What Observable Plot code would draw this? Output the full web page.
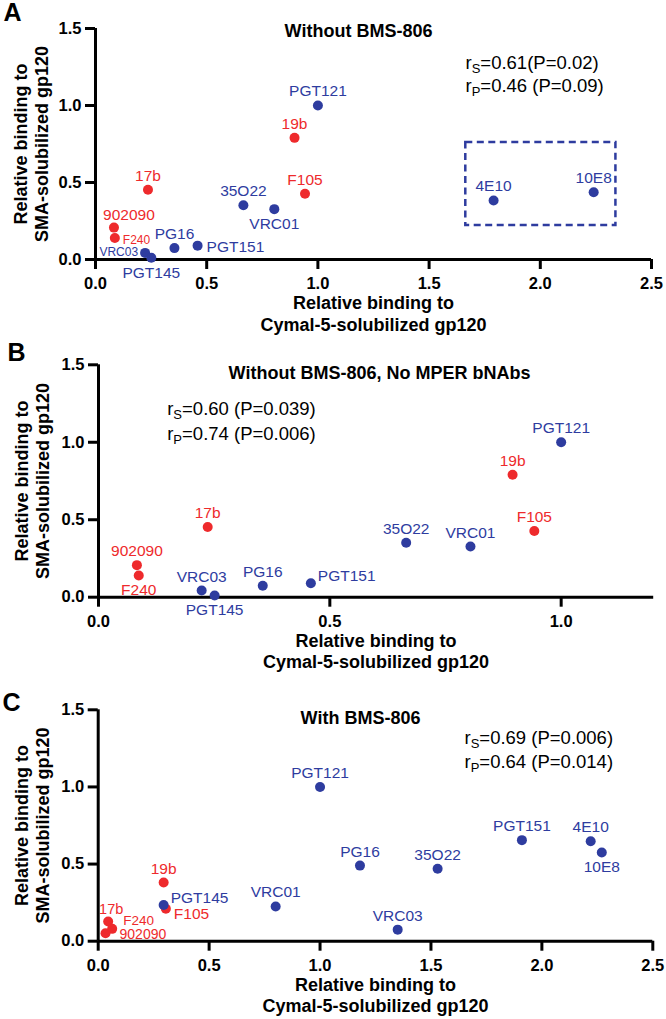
<!DOCTYPE html>
<html>
<head>
<meta charset="utf-8">
<script src="https://cdn.jsdelivr.net/npm/d3@7"></script>
<script src="https://cdn.jsdelivr.net/npm/@observablehq/plot@0.6"></script>
<style>
  html, body { margin: 0; padding: 0; background: #fff; overflow: hidden; }
  #chart svg { display: block; }
</style>
</head>
<body>
<div id="chart"></div>
<script>
// ---------------- DATA ----------------
const antibodies    = ["PGT121","19b","17b","F105","35O22","VRC01","902090","F240","VRC03","PG16","PGT151","PGT145","4E10","10E8"];
const antibodyClass = ["bNAb","nnAb","nnAb","nnAb","bNAb","bNAb","nnAb","nnAb","bNAb","bNAb","bNAb","bNAb","bNAb","bNAb"];
const mperBNAbs = ["4E10","10E8"];

// Without BMS-806 (panels A and B)
const cymalNoBMS = [1.00, 0.895, 0.236, 0.942, 0.665, 0.804, 0.083, 0.087, 0.223, 0.355, 0.459, 0.251, 1.79, 2.24];
const smaNoBMS   = [1.00, 0.79,  0.453, 0.427, 0.352, 0.327, 0.207, 0.14,  0.043, 0.074, 0.09,  0.011, 0.383, 0.437];

// With BMS-806 (panel C)
const cymalBMS = [1.00, 0.295, 0.045, 0.305, 1.53, 0.80,  0.033, 0.063, 1.35,  1.18, 1.91,  0.295, 2.22,  2.27];
const smaBMS   = [1.00, 0.38,  0.128, 0.21,  0.47, 0.225, 0.052, 0.08,  0.075, 0.49, 0.655, 0.235, 0.648, 0.575];

const xTicksWide   = [0, 0.5, 1, 1.5, 2, 2.5];
const xTicksNarrow = [0, 0.5, 1];
const yTicks       = [0, 0.5, 1, 1.5];

// dashed box around MPER bNAbs in panel A
const mperBoxCymal = [1.665, 2.34];
const mperBoxSMA   = [0.22, 0.76];

// label placement codes
const labelPosA = ["above","above","above","above","above","below","aboveRight","rightSmall","leftSmall","above","right","below","above","above"];
const labelPosB = ["above","above","above","above","above","above","above","below","above","above","rightUp","below"];
const labelPosC = ["above","above","aboveTight","rightDown","above","above","rightFarTight","rightUpTight","above","above","above","rightUp","above","below"];

const titleA = "Without BMS-806";
const titleB = "Without BMS-806, No MPER bNAbs";
const titleC = "With BMS-806";
const statsA = ["r_S=0.61(P=0.02)", "r_P=0.46 (P=0.09)"];
const statsB = ["r_S=0.60 (P=0.039)", "r_P=0.74 (P=0.006)"];
const statsC = ["r_S=0.69 (P=0.006)", "r_P=0.64 (P=0.014)"];
const xTitle = "Relative binding to\nCymal-5-solubilized gp120";
const yTitle = "Relative binding to\nSMA-solubilized gp120";

// ---------------- STYLE ----------------
const FONT = "'Liberation Sans', Arial, Helvetica, sans-serif";
const RED = "#EE2A2C", BLUE = "#2E3C9F";
const placements = {
  above:         {dx: 0,  dy: -14, textAnchor: "middle"},
  aboveTight:    {dx: 3,  dy: -12, textAnchor: "middle", fontSize: 14.5},
  below:         {dx: 0,  dy: 15,  textAnchor: "middle"},
  right:         {dx: 9,  dy: 1,   textAnchor: "start"},
  rightFarTight: {dx: 14, dy: 1.5, textAnchor: "start", fontSize: 14},
  rightUp:       {dx: 7,  dy: -7,  textAnchor: "start"},
  rightUpTight:  {dx: 11, dy: -8.5, textAnchor: "start", fontSize: 13.5},
  rightDown:     {dx: 8,  dy: 5,   textAnchor: "start"},
  aboveRight:    {dx: 15, dy: -13, textAnchor: "middle"},
  rightSmall:    {dx: 8,  dy: 2,   textAnchor: "start", fontSize: 12},
  leftSmall:     {dx: -7, dy: -1,  textAnchor: "end",   fontSize: 12}
};

function makeRows(cymal, sma, pos, keep = () => true) {
  return antibodies
    .map((name, i) => ({name, cls: antibodyClass[i], cymal: cymal[i], sma: sma[i]}))
    .filter(keep)
    .map((d, i) => ({...d, pos: pos[i]}));
}

function subscriptify(svg) {
  d3.select(svg).selectAll("text").each(function () {
    const t = this.textContent;
    const k = t.indexOf("_");
    if (k < 0 || this.querySelector("tspan")) return;
    const before = t.slice(0, k), sub = t[k + 1], rest = t.slice(k + 2);
    const sel = d3.select(this);
    sel.text(before);
    sel.append("tspan").attr("dy", 4).attr("font-size", 13).text(sub);
    sel.append("tspan").attr("dy", -4).text(rest);
  });
}

function panel(cfg) {
  const {rows, xDomain, xTicks, height, mT, mR, mB, mL, letter, letterAt, title, titleAt,
         stats, statsAt, yTitleDx, extra = []} = cfg;
  const labelMarks = Object.entries(placements).map(([k, p]) =>
    Plot.text(rows.filter(d => d.pos === k), {
      x: "cymal", y: "sma", text: "name", fill: "cls",
      dx: p.dx, dy: p.dy, textAnchor: p.textAnchor, fontSize: p.fontSize ?? 15.5
    }));
  const svg = Plot.plot({
    width: 666, height,
    marginTop: mT, marginRight: mR, marginBottom: mB, marginLeft: mL,
    style: {fontFamily: FONT, background: "white", overflow: "visible", color: "black"},
    x: {domain: xDomain},
    y: {domain: [0, 1.5]},
    color: {domain: ["nnAb", "bNAb"], range: [RED, BLUE]},
    marks: [
      ...extra,
      Plot.axisX({ticks: xTicks, tickFormat: d3.format(".1f"), tickSize: 10, tickPadding: 8,
                  strokeWidth: 3, fontSize: 16.5, fontWeight: "bold", label: null}),
      Plot.axisY({ticks: yTicks, tickFormat: d3.format(".1f"), tickSize: 10, tickPadding: 4,
                  strokeWidth: 3, fontSize: 16.5, fontWeight: "bold", label: null}),
      Plot.ruleY([0], {strokeWidth: 3}),
      Plot.ruleX([0], {strokeWidth: 3}),
      Plot.dot(rows, {x: "cymal", y: "sma", r: 5, fill: "cls"}),
      ...labelMarks,
      Plot.text([letter], {text: d => d, frameAnchor: "top-left", dx: letterAt[0] - mL, dy: letterAt[1] - mT,
                           textAnchor: "start", lineAnchor: "top", fontSize: 25, fontWeight: "bold"}),
      Plot.text([title], {text: d => d, frameAnchor: "top-left", dx: titleAt[0] - mL, dy: titleAt[1] - mT,
                          textAnchor: "middle", lineAnchor: "middle", fontSize: 18, fontWeight: "bold"}),
      Plot.text([stats[0]], {text: d => d, frameAnchor: "top-left", dx: statsAt[0] - mL, dy: statsAt[1] - mT,
                             textAnchor: "start", lineAnchor: "middle", fontSize: 18.5}),
      Plot.text([stats[1]], {text: d => d, frameAnchor: "top-left", dx: statsAt[0] - mL, dy: statsAt[2] - mT,
                             textAnchor: "start", lineAnchor: "middle", fontSize: 18.5}),
      Plot.text([xTitle], {text: d => d, frameAnchor: "bottom", dy: 53.5, textAnchor: "middle", lineAnchor: "middle",
                           lineHeight: 1.2, fontSize: 18, fontWeight: "bold"}),
      Plot.text([yTitle], {text: d => d, frameAnchor: "left", dx: yTitleDx, rotate: -90,
                           textAnchor: "middle", lineAnchor: "middle",
                           lineHeight: 1.2, fontSize: 18, fontWeight: "bold"})
    ]
  });
  subscriptify(svg);
  return svg;
}

const rowsA = makeRows(cymalNoBMS, smaNoBMS, labelPosA);
const rowsB = makeRows(cymalNoBMS, smaNoBMS, labelPosB, d => !mperBNAbs.includes(d.name));
const rowsC = makeRows(cymalBMS, smaBMS, labelPosC);

const chart = document.getElementById("chart");

// Panel A (page y 0..330)
chart.append(panel({
  rows: rowsA, xDomain: [0, 2.5], xTicks: xTicksWide, height: 330,
  mT: 28, mR: 15, mB: 71, mL: 95,
  letter: "A", letterAt: [3, 3],
  title: titleA, titleAt: [358, 31],
  stats: statsA, statsAt: [465, 63, 86],
  yTitleDx: -65,
  extra: [
    Plot.rect([0], {x1: () => mperBoxCymal[0], x2: () => mperBoxCymal[1],
                    y1: () => mperBoxSMA[0], y2: () => mperBoxSMA[1],
                    fill: "none", stroke: BLUE, strokeWidth: 2.5, strokeDasharray: "7,4.5"})
  ]
}));

// Panel B (page y 330..680)
chart.append(panel({
  rows: rowsB, xDomain: [0, 1.2], xTicks: xTicksNarrow, height: 350,
  mT: 34.3, mR: 12.8, mB: 83.3, mL: 98,
  letter: "B", letterAt: [7, 13],
  title: titleB, titleAt: [379, 42.7],
  stats: statsB, statsAt: [166.7, 78.3, 103.3],
  yTitleDx: -67
}));

// Panel C (page y 680..1019)
chart.append(panel({
  rows: rowsC, xDomain: [0, 2.5], xTicks: xTicksWide, height: 339,
  mT: 29.3, mR: 13.7, mB: 78.3, mL: 97.7,
  letter: "C", letterAt: [2, 13],
  title: titleC, titleAt: [360, 37.5],
  stats: statsC, statsAt: [464, 57.3, 81.7],
  yTitleDx: -66.7
}));
</script>
</body>
</html>
